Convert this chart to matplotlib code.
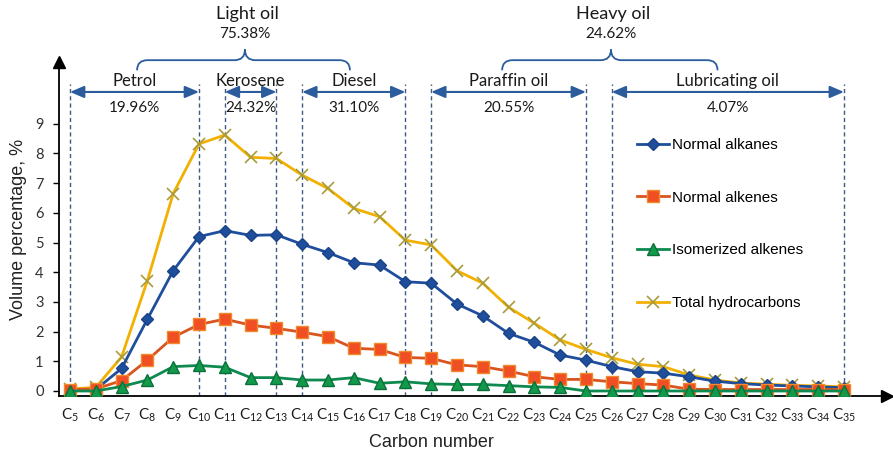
import matplotlib
matplotlib.use("Agg")
import matplotlib.pyplot as plt
from matplotlib.path import Path
from matplotlib.patches import PathPatch

# ---- data -------------------------------------------------------------
carbon = list(range(5, 36))
normal_alkanes = [0.02, 0.05, 0.76, 2.42, 4.05, 5.20, 5.40, 5.24, 5.26, 4.94,
                  4.66, 4.32, 4.24, 3.68, 3.63, 2.93, 2.53, 1.94, 1.64, 1.21,
                  1.04, 0.82, 0.65, 0.60, 0.48, 0.33, 0.25, 0.20, 0.17, 0.14,
                  0.11]
normal_alkenes = [0.05, 0.07, 0.35, 1.04, 1.81, 2.24, 2.42, 2.22, 2.11, 1.98,
                  1.83, 1.44, 1.40, 1.13, 1.10, 0.88, 0.82, 0.67, 0.48, 0.39,
                  0.39, 0.31, 0.25, 0.20, 0.06, 0.05, 0.05, 0.05, 0.05, 0.05,
                  0.05]
isomerized_alkenes = [0.00, 0.00, 0.15, 0.37, 0.82, 0.86, 0.80, 0.45, 0.45, 0.37,
                      0.37, 0.45, 0.26, 0.31, 0.24, 0.22, 0.22, 0.18, 0.14, 0.12,
                      0.00, 0.00, 0.00, 0.00, 0.00, 0.00, 0.00, 0.00, 0.00, 0.00,
                      0.00]
total_hydrocarbons = [0.07, 0.12, 1.15, 3.72, 6.65, 8.32, 8.62, 7.87, 7.83, 7.27,
                      6.82, 6.15, 5.87, 5.08, 4.92, 4.05, 3.63, 2.82, 2.28, 1.72,
                      1.40, 1.12, 0.90, 0.82, 0.54, 0.37, 0.27, 0.23, 0.19, 0.17,
                      0.14]

tick_labels = [r"$\mathrm{C_{%d}}$" % c for c in carbon]
y_ticks = list(range(0, 10))

fractions = ["Petrol", "Kerosene", "Diesel", "Paraffin oil", "Lubricating oil"]
fraction_start = [5, 11, 14, 19, 26]
fraction_end = [10, 13, 18, 25, 35]
fraction_share = ["19.96%", "24.32%", "31.10%", "20.55%", "4.07%"]

groups = ["Light oil", "Heavy oil"]
group_share = ["75.38%", "24.62%"]

# ---- style ------------------------------------------------------------
plt.rcParams["mathtext.fontset"] = "custom"
plt.rcParams["mathtext.rm"] = "Lato"
plt.rcParams["mathtext.it"] = "Lato"
ANNOT_FONT = "Lato"
SANS = "Liberation Sans"
BLUE_ANN = "#2b5c9c"
DASH = "#3e5a82"

fig = plt.figure(figsize=(8.93, 4.58), dpi=100)
ax = fig.add_axes([0.0661, 0.1354, 0.9272, 0.7293])
ax.set_xlim(4.574, 36.67)
ax.set_ylim(-0.168, 11.08)

# fraction boundaries
bounds = sorted(set(fraction_start + fraction_end))
for b in bounds:
    ax.plot([b, b], [-0.168, 10.34], color=DASH, lw=1.0,
            ls=(0, (3, 2.2)), zorder=1, clip_on=False)

# series
ax.plot(carbon, total_hydrocarbons, color="#f2b000", lw=2.0, marker="x",
        ms=8, mew=1.2, mec="#a89b3c", zorder=3, label="Total hydrocarbons")
ax.plot(carbon, normal_alkanes, color="#1f4e9c", lw=2.0, marker="D",
        ms=6, mfc="#1f4e9c", mec="#1a4388", zorder=4, label="Normal alkanes")
ax.plot(carbon, normal_alkenes, color="#d9541e", lw=2.0, marker="s",
        ms=8, mfc="#ef4f23", mec="#f08a2c", zorder=4, label="Normal alkenes")
ax.plot(carbon, isomerized_alkenes, color="#0e8a50", lw=2.0, marker="^",
        ms=8, mfc="#129a4a", mec="#0a6f3a", zorder=5, label="Isomerized alkenes")

# axes
for s in ("top", "right"):
    ax.spines[s].set_visible(False)
for s in ("left", "bottom"):
    ax.spines[s].set_linewidth(1.3)
    ax.spines[s].set_color("black")
ax.plot(0, 1, marker="^", color="black", ms=8, transform=ax.transAxes,
        clip_on=False, zorder=6)
ax.plot(1, 0, marker=">", color="black", ms=8, transform=ax.transAxes,
        clip_on=False, zorder=6)

ax.set_yticks(y_ticks)
ax.set_yticklabels([str(t) for t in y_ticks], fontfamily=ANNOT_FONT,
                   fontsize=10.5, color="#333333")
ax.tick_params(axis="y", direction="out", length=4, width=1, pad=7)
ax.set_xticks(carbon)
ax.set_xticklabels(tick_labels, fontsize=11, color="#1a1a1a")
ax.tick_params(axis="x", length=0, pad=8)

ax.set_ylabel("Volume percentage, %", fontfamily=SANS, fontsize=13,
              color="#222222")
ax.yaxis.set_label_coords(-0.039, 0.5)
ax.set_xlabel("Carbon number", fontfamily=SANS, fontsize=13, color="#222222")
ax.xaxis.set_label_coords(0.45, -0.115)

# fraction arrows and labels
for name, x0, x1, share in zip(fractions, fraction_start, fraction_end,
                               fraction_share):
    ax.annotate("", xy=(x1, 10.07), xytext=(x0, 10.07),
                arrowprops=dict(arrowstyle="<|-|>,head_length=0.7,head_width=0.3",
                                color=BLUE_ANN, lw=1.5, shrinkA=0, shrinkB=0,
                                mutation_scale=12),
                annotation_clip=False)
    xm = (x0 + x1) / 2
    ax.text(xm, 10.45, name, ha="center", va="center", fontsize=12,
            fontfamily=ANNOT_FONT, color="#1a1a1a", clip_on=False)
    ax.text(xm, 9.53, share, ha="center", va="center", fontsize=11,
            fontfamily=ANNOT_FONT, color="#1a1a1a", clip_on=False)


def brace(xl, xr, xc, y_end, y_h, y_peak, r=0.4):
    verts = [(xl, y_end), (xl, y_h), (xl + r, y_h),
             (xc - r, y_h), (xc, y_h), (xc, y_peak),
             (xc, y_h), (xc + r, y_h),
             (xr - r, y_h), (xr, y_h), (xr, y_end)]
    codes = [Path.MOVETO, Path.CURVE3, Path.CURVE3,
             Path.LINETO, Path.CURVE3, Path.CURVE3,
             Path.CURVE3, Path.CURVE3,
             Path.LINETO, Path.CURVE3, Path.CURVE3]
    ax.add_patch(PathPatch(Path(verts, codes), fill=False, ec=BLUE_ANN,
                           lw=1.3, clip_on=False))


brace_spans = [(7.6, 15.85, 11.78), (21.75, 30.1, 25.97)]
for (xl, xr, xc), name, share in zip(brace_spans, groups, group_share):
    brace(xl, xr, xc, 10.8, 11.14, 11.5)
    ax.text(xc + 0.1, 12.69, name, ha="center", va="center", fontsize=13,
            fontfamily=ANNOT_FONT, color="#1a1a1a", clip_on=False)
    ax.text(xc, 12.02, share, ha="center", va="center", fontsize=11,
            fontfamily=ANNOT_FONT, color="#1a1a1a", clip_on=False)

# legend
h, l = ax.get_legend_handles_labels()
order = ["Normal alkanes", "Normal alkenes", "Isomerized alkenes",
         "Total hydrocarbons"]
hh = [h[l.index(o)] for o in order]
leg = fig.legend(hh, order, loc="center left",
                 bbox_to_anchor=(637 / 893, 1 - 224 / 458), frameon=False,
                 prop={"family": SANS, "size": 11}, labelspacing=2.53,
                 handlelength=2.1, handletextpad=0.2, borderpad=0,
                 borderaxespad=0, numpoints=1)

fig.savefig("out.png", dpi=100)
